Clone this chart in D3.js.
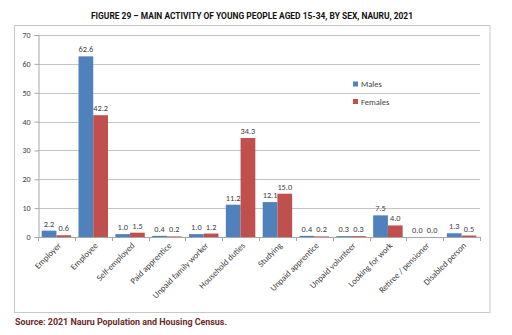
<!DOCTYPE html>
<html>
<head>
<meta charset="utf-8">
<script src="https://cdn.jsdelivr.net/npm/d3@7.9.0/dist/d3.min.js"></script>
<style>
  html, body { margin: 0; padding: 0; background: #fff; }
  svg { display: block; }
</style>
</head>
<body>
<svg id="chart" width="512" height="335"></svg>
<script>
// --- data ---
const categories = [
  'Employer', 'Employee', 'Self-employed', 'Paid apprentice',
  'Unpaid family worker', 'Household duties', 'Studying',
  'Unpaid apprentice', 'Unpaid volunteer', 'Looking for work',
  'Retiree / pensioner', 'Disabled person'
];
const males   = [2.2, 62.6, 1.0, 0.4, 1.0, 11.2, 12.1, 0.4, 0.3, 7.5, 0.0, 1.3];
const females = [0.6, 42.2, 1.5, 0.2, 1.2, 34.3, 15.0, 0.2, 0.3, 4.0, 0.0, 0.5];
const seriesNames = ['Males', 'Females'];
const yTicks = [0, 10, 20, 30, 40, 50, 60, 70];

const seriesColors = ['#4f81bd', '#c0504d'];
const series = [males, females];

// --- layout ---
const svg = d3.select('#chart');
const plot = { left: 38, right: 480, top: 35, bottom: 237 };
const labelFont = 'Calibri, Carlito, "Liberation Sans", Arial, sans-serif';

// title
svg.append('text')
  .attr('x', 252).attr('y', 18.5)
  .attr('text-anchor', 'middle')
  .attr('textLength', 322).attr('lengthAdjust', 'spacingAndGlyphs')
  .style('font-family', 'Roboto, "Liberation Sans", sans-serif')
  .style('font-weight', 700).style('font-size', '9.5px')
  .attr('fill', '#111')
  .text('FIGURE 29 \u2013 MAIN ACTIVITY OF YOUNG PEOPLE AGED 15-34, BY SEX, NAURU, 2021');

// outer chart frame
svg.append('rect')
  .attr('x', 14.5).attr('y', 25.5).attr('width', 475.5).attr('height', 287)
  .attr('fill', 'none').attr('stroke', '#c8c8c8').attr('stroke-width', 1);

// --- scales ---
const x = d3.scaleBand()
  .domain(categories)
  .range([plot.left, plot.right])
  .paddingInner(0.2).paddingOuter(0.1);

const xSub = d3.scaleBand()
  .domain(seriesNames)
  .range([0, x.bandwidth()]);

const y = d3.scaleLinear().domain([0, 70]).range([plot.bottom, plot.top]);

// gridlines
svg.append('g')
  .selectAll('line')
  .data(yTicks.filter(d => d > 0))
  .join('line')
  .attr('x1', plot.left).attr('x2', plot.right)
  .attr('y1', d => Math.round(y(d)) + 0.5).attr('y2', d => Math.round(y(d)) + 0.5)
  .attr('stroke', '#c4c4c4').attr('stroke-width', 1);

// y axis
const yAxis = svg.append('g')
  .attr('transform', `translate(${plot.left + 0.5},0)`)
  .call(d3.axisLeft(y).tickValues(yTicks).tickSize(4).tickPadding(4).tickFormat(d3.format('d')));
yAxis.select('.domain').attr('stroke', '#a6a6a6');
yAxis.selectAll('.tick line').attr('stroke', '#a6a6a6');
yAxis.selectAll('text')
  .style('font-family', labelFont).style('font-size', '8px').attr('fill', '#404040');

// bars
const groups = svg.append('g')
  .selectAll('g')
  .data(categories)
  .join('g')
  .attr('transform', d => `translate(${x(d)},0)`);

groups.selectAll('rect')
  .data((d, i) => series.map((s, k) => ({ name: seriesNames[k], value: s[i], k })))
  .join('rect')
  .attr('x', d => xSub(d.name))
  .attr('width', xSub.bandwidth())
  .attr('y', d => y(d.value))
  .attr('height', d => y(0) - y(d.value))
  .attr('fill', d => seriesColors[d.k]);

// value labels
groups.selectAll('text')
  .data((d, i) => series.map((s, k) => ({ name: seriesNames[k], value: s[i], k })))
  .join('text')
  .attr('x', d => xSub(d.name) + xSub.bandwidth() / 2)
  .attr('y', d => y(d.value) - 4)
  .attr('text-anchor', 'middle')
  .style('font-family', labelFont).style('font-size', '8.3px')
  .attr('fill', '#404040')
  .text(d => d3.format('.1f')(d.value));

// x axis: baseline, ticks at category boundaries
const step = x.step();
const xStart = plot.left;
const bounds = d3.range(categories.length + 1).map(i => xStart + i * step);
svg.append('line')
  .attr('x1', plot.left).attr('x2', plot.right)
  .attr('y1', plot.bottom + 0.5).attr('y2', plot.bottom + 0.5)
  .attr('stroke', '#a6a6a6');
svg.append('g')
  .selectAll('line')
  .data(bounds)
  .join('line')
  .attr('x1', d => Math.round(d) + 0.5).attr('x2', d => Math.round(d) + 0.5)
  .attr('y1', plot.bottom).attr('y2', plot.bottom + 4)
  .attr('stroke', '#a6a6a6');

svg.append('g')
  .selectAll('text')
  .data(categories)
  .join('text')
  .attr('transform', d => `translate(${x(d) + x.bandwidth() / 2 + 3},${plot.bottom + 7}) rotate(-45)`)
  .attr('text-anchor', 'end')
  .attr('dy', '0.35em')
  .style('font-family', labelFont).style('font-size', '8.6px')
  .attr('fill', '#404040')
  .text(d => d);

// legend
const legend = svg.append('g')
  .selectAll('g')
  .data(seriesNames)
  .join('g')
  .attr('transform', (d, i) => `translate(353,${81.5 + i * 17.5})`);
legend.append('rect')
  .attr('width', 5).attr('height', 5)
  .attr('fill', (d, i) => seriesColors[i]);
legend.append('text')
  .attr('x', 8).attr('y', 5.5)
  .style('font-family', labelFont).style('font-size', '8.5px')
  .attr('fill', '#404040')
  .text(d => d);

// source note
svg.append('text')
  .attr('x', 15).attr('y', 325)
  .attr('textLength', 212).attr('lengthAdjust', 'spacingAndGlyphs')
  .style('font-family', 'Roboto, "Liberation Sans", sans-serif')
  .style('font-weight', 700).style('font-size', '9px')
  .attr('fill', '#6e2a2a')
  .text('Source: 2021 Nauru Population and Housing Census.');
</script>
</body>
</html>
